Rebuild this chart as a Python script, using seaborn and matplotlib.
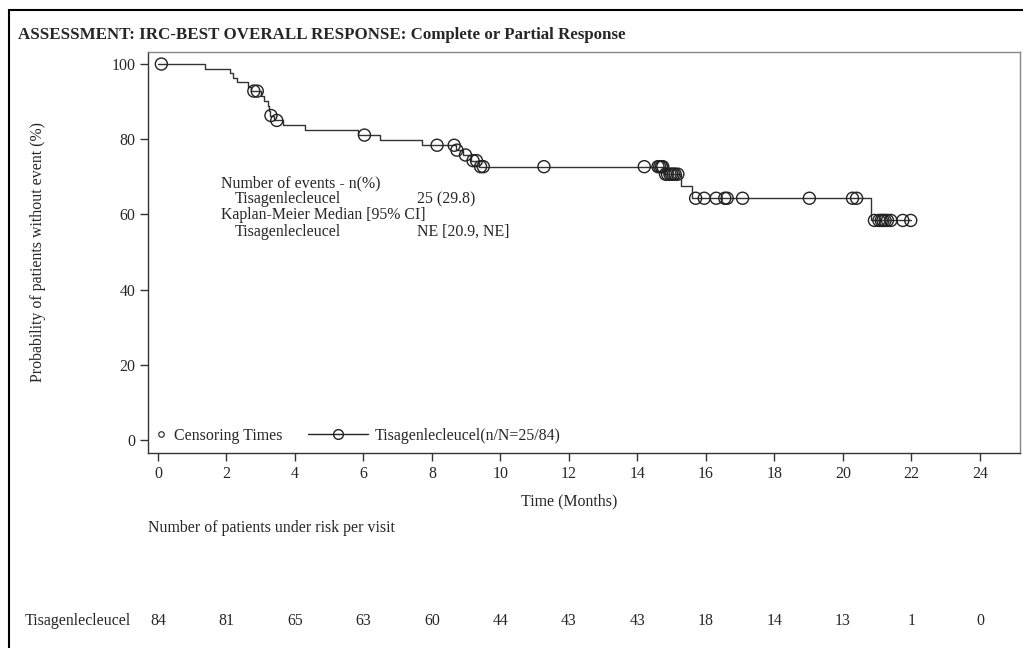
import numpy as np
import pandas as pd
import matplotlib
matplotlib.use("Agg")
import matplotlib.pyplot as plt
import seaborn as sns
from matplotlib.lines import Line2D
from matplotlib import transforms

# ---------------- data ----------------
title = "ASSESSMENT: IRC-BEST OVERALL RESPONSE: Complete or Partial Response"
group = "Tisagenlecleucel"
event_times = [0, 1.37, 2.10, 2.20, 2.30, 2.63, 2.72, 3.00, 3.10, 3.20, 3.23, 3.26,
               3.40, 3.66, 4.30, 5.85, 6.47, 7.71, 8.70, 8.90, 9.15, 9.38,
               14.77, 15.26, 15.60, 20.82]
survival = [100, 98.8, 97.6, 96.4, 95.2, 94.0, 92.8, 91.5, 90.2, 88.9, 87.6, 86.3,
            85.0, 83.7, 82.4, 81.1, 79.8, 78.4, 77.1, 75.8, 74.3, 72.7,
            70.7, 67.6, 64.3, 58.4]
censor_times = [0.10, 2.80, 2.90, 3.30, 3.47, 6.03, 8.15, 8.65, 8.73, 8.98, 9.20, 9.30,
                9.42, 9.50, 11.27, 14.20, 14.60, 14.65, 14.70, 14.74, 14.82, 14.88,
                14.95, 15.00, 15.05, 15.10, 15.18, 15.70, 15.95, 16.30, 16.55, 16.62,
                17.07, 19.02, 20.28, 20.40, 20.92, 21.05, 21.12, 21.17, 21.23, 21.30,
                21.40, 21.75, 21.98]
risk_times = [0, 2, 4, 6, 8, 10, 12, 14, 16, 18, 20, 22, 24]
at_risk = [84, 81, 65, 63, 60, 44, 43, 43, 18, 14, 13, 1, 0]
x_ticks = [0, 2, 4, 6, 8, 10, 12, 14, 16, 18, 20, 22, 24]
y_ticks = [0, 20, 40, 60, 80, 100]
n_events, n_total = 25, 84
pct_events = "29.8"
median_txt = "NE [20.9, NE]"

# ---------------- style ----------------
sns.set_theme(style="white")
plt.rcParams["font.family"] = ["Liberation Serif", "DejaVu Serif"]
FS = 11.4
plt.rcParams["font.size"] = FS

W, H = 1023, 648
fig = plt.figure(figsize=(W / 100, H / 100), dpi=100)
fig.patch.set_facecolor("white")

def fx(px):
    return px / W

def fy(py):
    return 1 - py / H

ax = fig.add_axes([fx(148), fy(453), (1020 - 148) / W, (453 - 52) / H])

# step curve
step_t = list(event_times) + [max(censor_times)]
step_s = list(survival) + [survival[-1]]
df_curve = pd.DataFrame({"t": step_t, "s": step_s})
sns.lineplot(data=df_curve, x="t", y="s", drawstyle="steps-post", estimator=None,
             color="#333333", lw=1, ax=ax)

# censor marks
idx = np.searchsorted(event_times, censor_times, side="right") - 1
cens_s = np.asarray(survival)[idx]
df_cens = pd.DataFrame({"t": censor_times, "s": cens_s})
sns.scatterplot(data=df_cens, x="t", y="s", marker="o", s=75, facecolors="none",
                edgecolors="#222222", linewidth=1, ax=ax, zorder=3)

ax.set_xlim(-0.29, 25.17)
ax.set_ylim(-3.46, 103.2)
ax.set_xticks(x_ticks)
ax.set_yticks(y_ticks)
ax.tick_params(axis="both", direction="out", length=6, width=1, color="#333333",
               labelsize=FS, pad=3, bottom=True, left=True)
for side in ["left", "bottom"]:
    ax.spines[side].set_color("#333333")
    ax.spines[side].set_linewidth(1)
for side in ["top", "right"]:
    ax.spines[side].set_color("#888888")
    ax.spines[side].set_linewidth(1)

ax.set_xlabel("")
ax.set_ylabel("Probability of patients without event (%)", fontsize=FS)
ax.yaxis.set_label_coords((46 - 148) / 872, 0.5)
blend = transforms.blended_transform_factory(ax.transData, fig.transFigure)
ax.text(12, fy(501), "Time (Months)", transform=blend, ha="center", va="center",
        fontsize=FS, clip_on=False)

# legends
h1 = Line2D([], [], marker="o", markersize=4, linestyle="none",
            markerfacecolor="none", markeredgecolor="#222222", markeredgewidth=0.8)
leg1 = ax.legend([h1], ["Censoring Times"], loc="center left",
                 bbox_to_anchor=(fx(157), fy(436)), bbox_transform=fig.transFigure,
                 frameon=False, borderpad=0, borderaxespad=0, handlelength=0.55,
                 handletextpad=0.5, fontsize=FS)
ax.add_artist(leg1)
h2 = Line2D([], [], color="#222222", lw=1, marker="o", markersize=7,
            markerfacecolor="none", markeredgecolor="#222222", markeredgewidth=1)
ax.legend([h2], [f"{group}(n/N={n_events}/{n_total})"], loc="center left",
          bbox_to_anchor=(fx(308), fy(436)), bbox_transform=fig.transFigure,
          frameon=False, borderpad=0, borderaxespad=0, handlelength=3.8,
          handletextpad=0.4, fontsize=FS)

# title & annotations
fig.text(fx(18), fy(35), title, fontsize=12.2, fontweight="bold", va="center", ha="left")
fig.text(fx(221), fy(183), "Number of events - n(%)", va="center", ha="left", fontsize=FS)
fig.text(fx(235), fy(199), group, va="center", ha="left", fontsize=FS)
fig.text(fx(417), fy(199), f"{n_events} ({pct_events})", va="center", ha="left", fontsize=FS)
fig.text(fx(221), fy(215), "Kaplan-Meier Median [95% CI]", va="center", ha="left", fontsize=FS)
fig.text(fx(235), fy(232), group, va="center", ha="left", fontsize=FS)
fig.text(fx(417), fy(232), median_txt, va="center", ha="left", fontsize=FS)

# risk table
fig.text(fx(148), fy(528), "Number of patients under risk per visit", va="center",
         ha="left", fontsize=FS)
fig.text(fx(25), fy(621), group, va="center", ha="left", fontsize=FS)
for t, n in zip(risk_times, at_risk):
    ax.text(t, fy(621), str(n), transform=blend, ha="center", va="center",
            fontsize=FS, clip_on=False)

# outer frame
fig.add_artist(Line2D([fx(9), 1.0], [fy(10), fy(10)], transform=fig.transFigure,
                      color="black", lw=1.5))
fig.add_artist(Line2D([fx(9), fx(9)], [fy(10), 0.0], transform=fig.transFigure,
                      color="black", lw=1.5))

fig.savefig("out.png", dpi=100, facecolor="white")
